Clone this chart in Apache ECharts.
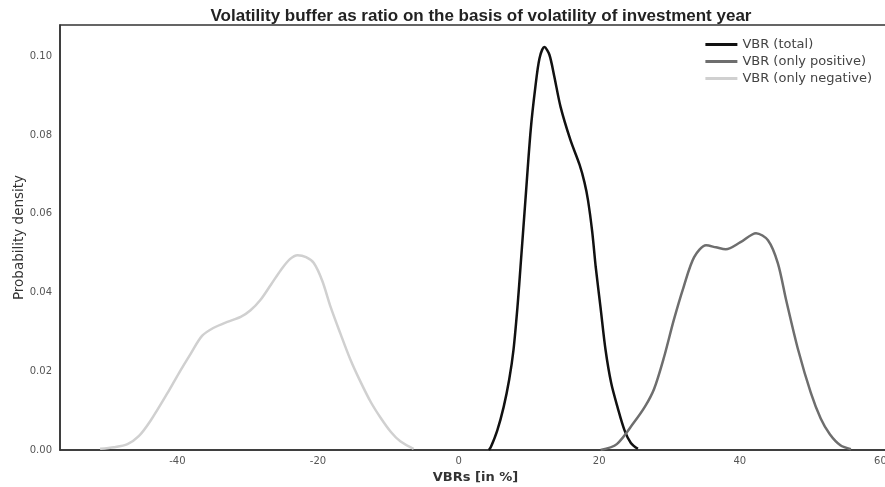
<!DOCTYPE html>
<html>
<head>
<meta charset="utf-8">
<script src="https://cdn.jsdelivr.net/npm/echarts@6/dist/echarts.min.js"></script>
<style>
  html, body { margin: 0; padding: 0; background: #fff; }
  #chart { width: 885px; height: 487px; }
</style>
</head>
<body>
<div id="chart"></div>
<script>
// x ticks and y ticks
const xTicks = [-40, -20, 0, 20, 40, 60];
const yTicks = [0, 0.02, 0.04, 0.06, 0.08, 0.10];

// density curves: [VBR %, density]
const vbrTotal = [
  [4.3, 0], [4.6, 0.0008], [5.5, 0.005], [6.4, 0.0109], [7.2, 0.018],
  [7.8, 0.0254], [8.4, 0.037], [8.8, 0.0465], [9.5, 0.0635],
  [10.25, 0.0813], [10.9, 0.092], [11.5, 0.0995], [12.2, 0.1024],
  [12.9, 0.1005], [13.6, 0.095], [14.5, 0.0872], [15.9, 0.0788],
  [17.2, 0.0725], [17.9, 0.068], [18.4, 0.0635], [19.0, 0.0555],
  [19.5, 0.0465], [20.2, 0.036], [20.9, 0.0254], [21.7, 0.017],
  [22.6, 0.0109], [23.6, 0.005], [24.5, 0.0018], [25.5, 0.0003]
];
const vbrPositive = [
  [20.2, 0], [22.5, 0.0015], [24.9, 0.0069], [26.5, 0.011], [27.8, 0.0155],
  [29.2, 0.0235], [30.6, 0.033], [32.0, 0.0414], [33.5, 0.049],
  [35.2, 0.052], [36.6, 0.0515], [38.0, 0.051], [40.1, 0.0528],
  [42.3, 0.0551], [44.0, 0.0533], [45.4, 0.0475], [46.6, 0.038],
  [48.3, 0.0254], [50.1, 0.0145], [51.5, 0.008], [52.8, 0.004],
  [54.3, 0.0012], [55.8, 0.0002]
];
const vbrNegative = [
  [-51.0, 0.0003], [-49.0, 0.0007], [-47.1, 0.0015], [-45.5, 0.0035],
  [-43.8, 0.0075], [-41.4, 0.0145], [-39.8, 0.0195], [-38.1, 0.0245],
  [-36.5, 0.029], [-34.9, 0.031], [-33.0, 0.0325], [-31.0, 0.0338],
  [-29.6, 0.0355], [-28.2, 0.0381], [-26.7, 0.042], [-25.3, 0.0457],
  [-24.0, 0.0485], [-22.9, 0.0495], [-21.7, 0.049], [-20.6, 0.0475],
  [-19.4, 0.043], [-18.2, 0.0363], [-16.8, 0.0295], [-15.4, 0.023],
  [-14.0, 0.0175], [-12.5, 0.0122], [-11.1, 0.0082], [-9.6, 0.0045],
  [-8.3, 0.0022], [-6.4, 0.0003]
];

const chart = echarts.init(document.getElementById('chart'));

const lineSeries = (name, data, color) => ({
  name: name,
  type: 'line',
  data: data,
  smooth: 0.3,
  showSymbol: false,
  symbol: 'none',
  lineStyle: { color: color, width: 2.5 },
  itemStyle: { color: color }
});

chart.setOption({
  backgroundColor: '#ffffff',
  animation: false,
  title: {
    text: 'Volatility buffer as ratio on the basis of volatility of investment year',
    left: 476, textAlign: 'center', top: 3,
    textStyle: { fontFamily: 'Liberation Sans', fontSize: 17, fontWeight: 'bold', color: '#222' }
  },
  legend: {
    right: 8, top: 33, orient: 'vertical', itemGap: 4,
    itemWidth: 32, itemHeight: 3,
    icon: 'rect',
    textStyle: { fontFamily: 'DejaVu Sans', fontSize: 13, color: '#444' },
    data: ['VBR (total)', 'VBR (only positive)', 'VBR (only negative)']
  },
  grid: {
    left: 60, right: -6, top: 25, bottom: 37,
    outerBoundsMode: 'none',
    show: true, borderColor: '#333', borderWidth: 1.5
  },
  xAxis: {
    type: 'value',
    min: -56.7, max: 61.5,
    name: 'VBRs [in %]', nameLocation: 'middle', nameGap: 21,
    nameTextStyle: { fontFamily: 'DejaVu Sans', fontSize: 13, fontWeight: 'bold', color: '#333' },
    axisLine: { show: true, onZero: false, lineStyle: { color: '#333', width: 1.5 } },
    axisTick: { show: false, customValues: xTicks },
    splitLine: { show: false },
    axisLabel: {
      customValues: xTicks,
      fontFamily: 'DejaVu Sans', fontSize: 10, color: '#555', margin: 6
    }
  },
  yAxis: {
    type: 'value',
    min: 0, max: 0.108, interval: 0.02,
    name: 'Probability density', nameLocation: 'middle', nameGap: 34,
    nameTextStyle: { fontFamily: 'DejaVu Sans', fontSize: 13.5, color: '#333' },
    nameMoveOverlap: false,
    axisLine: { show: true, onZero: false, lineStyle: { color: '#333', width: 1.5 } },
    axisTick: { show: false },
    splitLine: { show: false },
    axisLabel: {
      customValues: yTicks,
      formatter: v => v.toFixed(2),
      fontFamily: 'DejaVu Sans', fontSize: 10, color: '#555', margin: 8
    }
  },
  series: [
    lineSeries('VBR (total)', vbrTotal, '#111111'),
    lineSeries('VBR (only positive)', vbrPositive, '#6e6e6e'),
    lineSeries('VBR (only negative)', vbrNegative, '#d0d0d0')
  ]
});
</script>
</body>
</html>
